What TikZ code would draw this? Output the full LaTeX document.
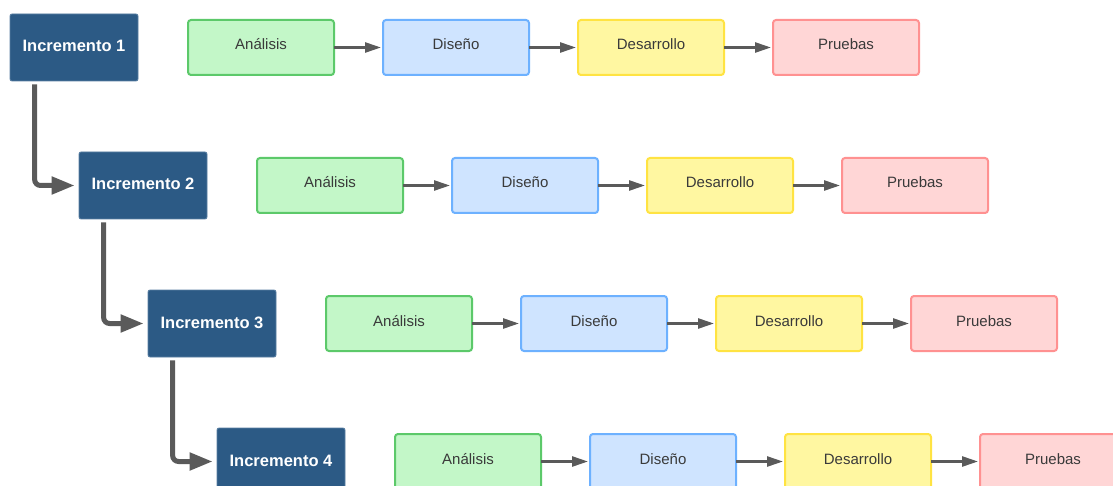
\documentclass[tikz,border=0pt]{standalone}
\usepackage{fontspec}
\setmainfont{Liberation Sans}
\usetikzlibrary{arrows.meta}

\definecolor{incfill}{HTML}{2C5A85}
\definecolor{incline}{HTML}{5A7FA3}
\definecolor{anfill}{HTML}{C3F7C8}
\definecolor{anline}{HTML}{5CC96A}
\definecolor{difill}{HTML}{CFE4FF}
\definecolor{diline}{HTML}{6DB1FF}
\definecolor{defill}{HTML}{FFF7A1}
\definecolor{deline}{HTML}{FFE342}
\definecolor{prfill}{HTML}{FFD6D6}
\definecolor{prline}{HTML}{FF9191}
\definecolor{arrowgray}{HTML}{5A5A5A}
\definecolor{phasetext}{HTML}{3A3A3A}

\tikzset{
  incbox/.style={draw=incline, line width=0.8pt, fill=incfill, rounded corners=2pt,
    minimum width=128pt, minimum height=67pt, inner sep=0pt,
    text height=12pt, text depth=3pt,
    text=white, font=\fontsize{16.5}{19}\selectfont\bfseries},
  phase/.style={line width=2pt, rounded corners=3pt,
    minimum width=146pt, minimum height=55pt, inner sep=0pt,
    text height=11pt, text depth=6pt,
    text=phasetext, font=\fontsize{15}{18}\selectfont},
  analisis/.style={phase, draw=anline, fill=anfill},
  diseno/.style={phase, draw=diline, fill=difill},
  desarrollo/.style={phase, draw=deline, fill=defill},
  pruebas/.style={phase, draw=prline, fill=prfill},
  flowarrow/.style={draw=arrowgray, line width=2.5pt,
    -{Triangle[length=16pt,width=10pt]}},
  stagearrow/.style={draw=arrowgray, line width=5pt, rounded corners=6pt,
    -{Triangle[length=23pt,width=17pt]}}
}

\begin{document}
\begin{tikzpicture}[x=1pt,y=-1pt]
  \clip (0,0) rectangle (1113,486);
  \fill[white] (0,0) rectangle (1113,486);

  % one row per increment: the increment box followed by its four phases
  \foreach \k in {1,2,3,4}{
    \pgfmathsetmacro{\dx}{69*(\k-1)}
    \pgfmathsetmacro{\dy}{138*(\k-1)}
    \node[incbox] (i\k) at (74+\dx, 47.5+\dy) {Incremento \k};
    \node[analisis]   (a\k) at (261+\dx, 47.5+\dy) {Análisis};
    \node[diseno]     (b\k) at (456+\dx, 47.5+\dy) {Diseño};
    \node[desarrollo] (c\k) at (651+\dx, 47.5+\dy) {Desarrollo};
    \node[pruebas]    (d\k) at (846+\dx, 47.5+\dy) {Pruebas};
    \draw[flowarrow] ([xshift=-1pt]a\k.east) -- ([xshift=-1pt]b\k.west);
    \draw[flowarrow] ([xshift=-1pt]b\k.east) -- ([xshift=-1pt]c\k.west);
    \draw[flowarrow] ([xshift=-1pt]c\k.east) -- ([xshift=-1pt]d\k.west);
  }

  % links from each increment to the next one
  \foreach \k/\n in {1/2,2/3,3/4}{
    \draw[stagearrow] ([xshift=25pt,yshift=-3pt]i\k.south west)
      |- ([xshift=-4pt]i\n.west);
  }
\end{tikzpicture}
\end{document}
